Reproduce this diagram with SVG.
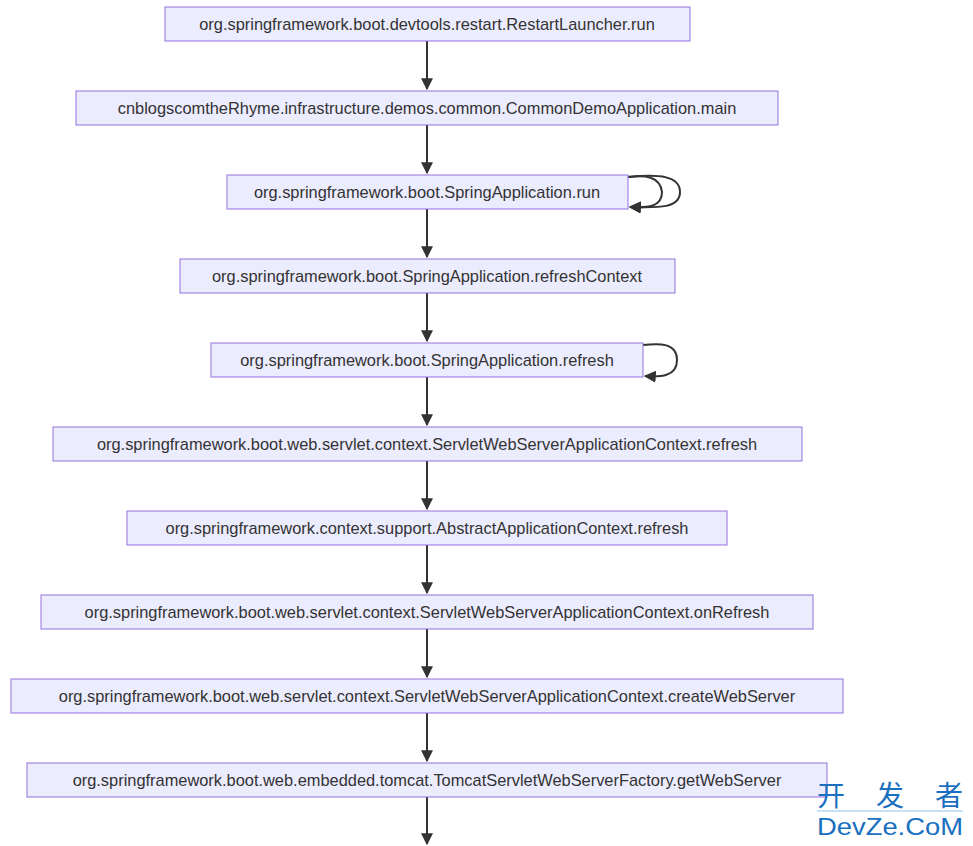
<svg xmlns="http://www.w3.org/2000/svg" width="973" height="846" viewBox="0 0 973 846">
<style>
.n rect{fill:#ECECFF;stroke:#9370DB;stroke-width:1}
.n text{font-family:"Liberation Sans",Arial,sans-serif;font-size:16.4px;fill:#333;text-anchor:middle;dominant-baseline:central}
.e path{fill:none;stroke:#333;stroke-width:2;marker-end:url(#a)}
</style>
<defs><marker id="a" viewBox="0 0 10 10" refX="9" refY="5" markerWidth="6" markerHeight="6" orient="auto"><path d="M0,0L10,5L0,10z" fill="#333"/></marker></defs>
<rect width="973" height="846" fill="#fff"/>
<g class="e">
<path d="M427,41V89"/><path d="M427,125V173"/><path d="M427,209V257"/><path d="M427,293V341"/><path d="M427,377V425"/><path d="M427,461V509"/><path d="M427,545V593"/><path d="M427,629V677"/><path d="M427,713V761"/><path d="M427,797V844"/>
<path d="M628,177C645,175 660,176 662,192C662,207 648,208 630,207"/>
<path d="M628,177C660,174 680,176 680,192C680,208 660,208 630,207"/>
<path d="M643,345C660,343 677,343 677,360C677,377 660,377 645,376"/>
</g>
<g id="n1" class="n"><rect x="165" y="7" width="525" height="34"/><text x="427" y="24">org.springframework.boot.devtools.restart.RestartLauncher.run</text></g>
<g id="n2" class="n"><rect x="76" y="91" width="702" height="34"/><text x="427" y="108">cnblogscomtheRhyme.infrastructure.demos.common.CommonDemoApplication.main</text></g>
<g id="n3" class="n"><rect x="227" y="175" width="401" height="34"/><text x="427" y="192">org.springframework.boot.SpringApplication.run</text></g>
<g id="n4" class="n"><rect x="180" y="259" width="495" height="34"/><text x="427" y="276">org.springframework.boot.SpringApplication.refreshContext</text></g>
<g id="n5" class="n"><rect x="211" y="343" width="432" height="34"/><text x="427" y="360">org.springframework.boot.SpringApplication.refresh</text></g>
<g id="n6" class="n"><rect x="53" y="427" width="749" height="34"/><text x="427" y="444">org.springframework.boot.web.servlet.context.ServletWebServerApplicationContext.refresh</text></g>
<g id="n7" class="n"><rect x="127" y="511" width="600" height="34"/><text x="427" y="528">org.springframework.context.support.AbstractApplicationContext.refresh</text></g>
<g id="n8" class="n"><rect x="41" y="595" width="772" height="34"/><text x="427" y="612">org.springframework.boot.web.servlet.context.ServletWebServerApplicationContext.onRefresh</text></g>
<g id="n9" class="n"><rect x="11" y="679" width="832" height="34"/><text x="427" y="696">org.springframework.boot.web.servlet.context.ServletWebServerApplicationContext.createWebServer</text></g>
<g id="n10" class="n"><rect x="27" y="763" width="800" height="34"/><text x="427" y="780">org.springframework.boot.web.embedded.tomcat.TomcatServletWebServerFactory.getWebServer</text></g>
<g id="wm" font-family="'Noto Sans CJK SC','Liberation Sans',sans-serif" fill="#1a6fc0">
<text x="817" y="806" font-size="28" textLength="146" lengthAdjust="spacing">开 发 者</text>
<line x1="817" y1="811" x2="963" y2="811" stroke="#8cc4ec" stroke-width="1"/>
<text x="817" y="835" font-size="24" font-family="'Liberation Sans',sans-serif" textLength="146" lengthAdjust="spacingAndGlyphs">DevZe.CoM</text>
</g>
</svg>
